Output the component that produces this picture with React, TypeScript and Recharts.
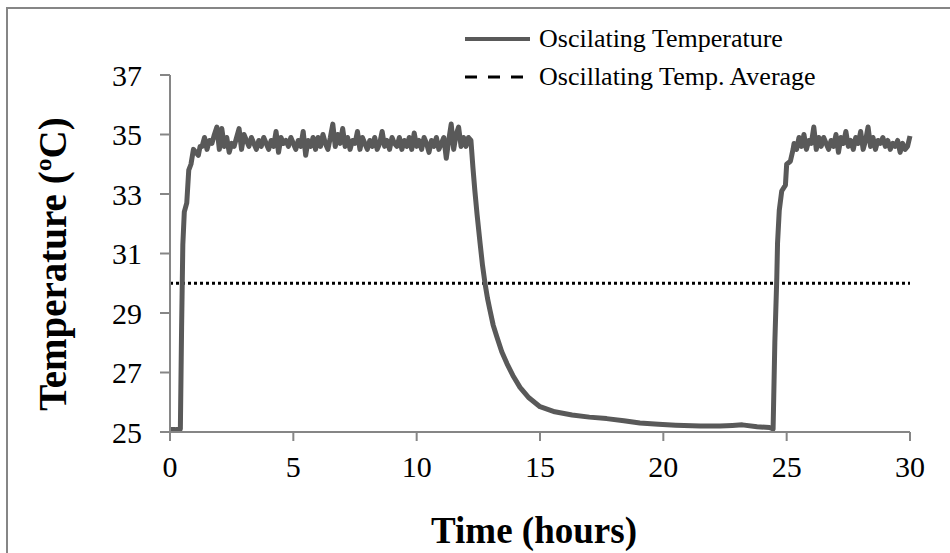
import { LineChart, Line, XAxis, YAxis, ReferenceLine, Label } from 'recharts'

// warm-up from the idle temperature [hours, °C]
const warmUp: [number, number][] = [
  [0, 25.08], [0.2, 25.08], [0.42, 25.1], [0.47, 28.5], [0.52, 31.3], [0.58, 32.4],
  [0.68, 32.7], [0.76, 33.8], [0.85, 34.0], [0.95, 34.5], [1.05, 34.4], [1.15, 34.3], [1.22, 34.6],
]

// first oscillating plateau, sampled every 0.1 h from 1.3 h
const plateau1Start = 1.3
const plateau1: number[] = [
  34.6, 34.9, 34.5, 34.8, 34.7, 35.0, 35.25, 34.5, 35.2, 34.6,
  34.9, 34.4, 34.7, 34.6, 34.9, 35.2, 34.5, 35.0, 34.8, 34.6,
  34.9, 34.7, 34.5, 34.8, 34.6, 34.9, 34.7, 34.5, 34.8, 34.6,
  35.1, 34.4, 34.9, 34.7, 34.8, 34.6, 34.9, 34.7, 34.5, 34.8,
  34.6, 35.1, 34.3, 34.8, 34.6, 34.9, 34.5, 34.9, 34.6, 35.0,
  34.7, 34.5, 34.9, 35.35, 34.6, 35.0, 34.7, 35.2, 34.6, 34.9,
  34.5, 34.8, 34.7, 35.1, 34.5, 34.9, 34.7, 34.5, 34.8, 34.6,
  34.9, 34.5, 34.7, 35.1, 34.6, 34.8, 34.5, 34.9, 34.7, 34.6,
  34.9, 34.5, 34.8, 34.6, 34.9, 34.5, 35.05, 34.6, 34.8, 34.5,
  34.9, 34.7, 34.4, 34.8, 34.6, 34.9, 34.5, 34.7, 34.9, 34.2,
  34.8, 35.35, 34.5, 35.0, 35.25, 34.6, 34.9, 34.6, 34.9, 34.8,
]

// cool-down and idle period [hours, °C]
const coolDown: [number, number][] = [
  [12.28, 33.9], [12.36, 33.1], [12.45, 32.3], [12.57, 31.35], [12.67, 30.6], [12.77, 30.0],
  [12.87, 29.5], [12.97, 29.1], [13.1, 28.6], [13.25, 28.2], [13.45, 27.7], [13.66, 27.3],
  [13.9, 26.9], [14.19, 26.5], [14.55, 26.15], [15.0, 25.85], [15.6, 25.68], [16.3, 25.57],
  [17.0, 25.5], [17.7, 25.45], [18.4, 25.38], [19.05, 25.3], [19.8, 25.26], [20.5, 25.23],
  [21.5, 25.2], [22.3, 25.2], [22.8, 25.22], [23.2, 25.24], [23.8, 25.18], [24.3, 25.15], [24.45, 25.1],
]

// second warm-up [hours, °C]
const reHeat: [number, number][] = [
  [24.52, 28.0], [24.6, 30.2], [24.63, 31.35], [24.7, 32.45], [24.8, 33.1],
  [24.95, 33.3], [25.0, 34.0], [25.15, 34.1], [25.26, 34.5],
]

// second oscillating plateau, every 0.1 h from 25.3 h
const plateau2Start = 25.3
const plateau2: number[] = [
  34.7, 34.5, 34.9, 34.6, 35.0, 34.5, 34.8, 34.7, 35.25, 34.5,
  34.9, 34.6, 34.9, 34.7, 34.5, 34.8, 34.6, 35.0, 34.4, 34.9,
  34.7, 35.1, 34.6, 34.8, 34.5, 34.9, 34.7, 35.1, 34.5, 34.8,
  35.25, 34.6, 34.9, 34.5, 34.8, 34.7, 34.9, 34.6, 34.8, 34.5,
  34.7, 34.6, 34.8, 34.4, 34.7, 34.5, 34.6, 34.95,
]

const averageTemp = 30
const xTicks = [0, 5, 10, 15, 20, 25, 30]
const yTicks = [25, 27, 29, 31, 33, 35, 37]

const toRows = (pts: [number, number][]) => pts.map(([t, temp]) => ({ t, temp }))
const sampled = (start: number, vals: number[]) =>
  vals.map((temp, i) => ({ t: Math.round((start + i * 0.1) * 100) / 100, temp }))

const data = [
  ...toRows(warmUp),
  ...sampled(plateau1Start, plateau1),
  ...toRows(coolDown),
  ...toRows(reHeat),
  ...sampled(plateau2Start, plateau2),
]

const serif = '"Liberation Serif", "Times New Roman", serif'
const axisGray = '#868686'
const lineGray = '#595959'

function ChartLegend() {
  const row = { display: 'flex', alignItems: 'center', height: 38 }
  return (
    <div style={{ position: 'absolute', left: 465, top: 20, fontFamily: serif, fontSize: 26, color: '#000' }}>
      <div style={row}>
        <svg width={74} height={10}>
          <line x1={0} y1={5} x2={65} y2={5} stroke={lineGray} strokeWidth={4} />
        </svg>
        <span>Oscilating Temperature</span>
      </div>
      <div style={row}>
        <svg width={74} height={10}>
          <line x1={0} y1={5} x2={58} y2={5} stroke="#000" strokeWidth={3} strokeDasharray="12 11" />
        </svg>
        <span>Oscillating Temp. Average</span>
      </div>
    </div>
  )
}

export default function App() {
  return (
    <div style={{ position: 'absolute', left: 0, top: 0, width: 950, height: 553, background: '#fff', overflow: 'hidden' }}>
      <div style={{ position: 'absolute', left: 6, top: 7, width: 960, height: 560, borderLeft: `2px solid ${axisGray}`, borderTop: `2px solid ${axisGray}` }} />
      <LineChart width={950} height={553} data={data} margin={{ top: 75, right: 40, bottom: 61, left: 0 }}>
        <XAxis
          dataKey="t"
          type="number"
          domain={[0, 30]}
          ticks={xTicks}
          height={60}
          tickSize={9}
          tickMargin={15}
          axisLine={{ stroke: axisGray, strokeWidth: 2 }}
          tickLine={{ stroke: axisGray, strokeWidth: 2 }}
          tick={{ fill: '#000', fontSize: 30, fontFamily: serif }}
        >
          <Label
            content={() => (
              <text x={534} y={543} textAnchor="middle" fontFamily={serif} fontSize={37} fontWeight="bold" fill="#000">
                Time (hours)
              </text>
            )}
          />
        </XAxis>
        <YAxis
          type="number"
          domain={[25, 37]}
          ticks={yTicks}
          width={170}
          tickSize={10}
          tickMargin={18}
          axisLine={{ stroke: axisGray, strokeWidth: 2 }}
          tickLine={{ stroke: axisGray, strokeWidth: 2 }}
          tick={{ fill: '#000', fontSize: 30, fontFamily: serif }}
        >
          <Label
            content={() => (
              <text x={66} y={264} transform="rotate(-90 66 264)" textAnchor="middle" fontFamily={serif} fontSize={39} fontWeight="bold" fill="#000">
                Temperature (ºC)
              </text>
            )}
          />
        </YAxis>
        <ReferenceLine y={averageTemp} stroke="#000" strokeWidth={3} strokeDasharray="3 3" />
        <Line
          dataKey="temp"
          type="linear"
          stroke={lineGray}
          strokeWidth={5}
          strokeLinejoin="round"
          dot={false}
          isAnimationActive={false}
        />
      </LineChart>
      <ChartLegend />
    </div>
  )
}
